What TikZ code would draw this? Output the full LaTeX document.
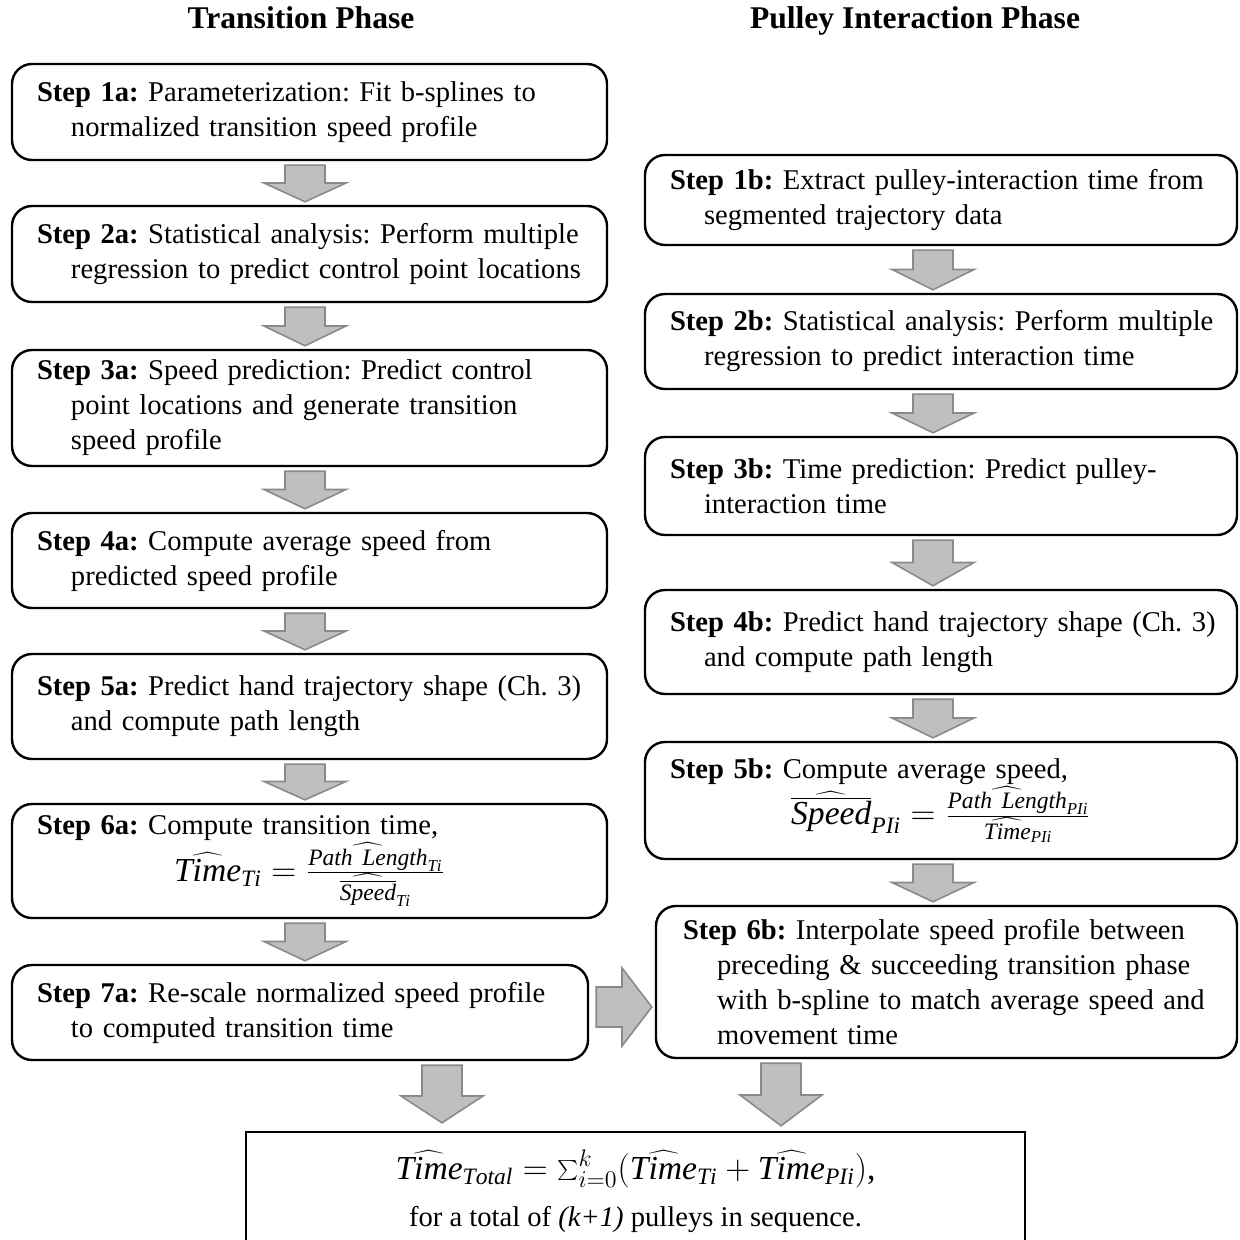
\documentclass[tikz,border=0pt]{standalone}
\usepackage{fontspec}
\setmainfont{Liberation Serif}
\usetikzlibrary{calc}

\definecolor{blockfill}{RGB}{191,191,191}
\definecolor{blockline}{RGB}{138,138,138}

% first line of a step box, kept on one line
\newcommand{\stepno}[2]{\mbox{\textbf{Step #1:} #2}}
\newcommand{\hangpad}{\hspace*{17pt}}
\newcommand{\mathsize}{\fontsize{16.8}{20}\selectfont}

% gray block arrow from the box above down to the box below
\newcommand{\downflow}[4][1.5pt]{%
  \path[flow] let \p1=(#2,0), \p2=(#3.south), \p3=(#4.north), \p4=($(#3.south)!.5!(#4.north)$) in
    (\x1-10pt,\y2-2pt) -- (\x1+10pt,\y2-2pt) -- (\x1+10pt,\y4) -- (\x1+20.5pt,\y4)
    -- (\x1,\y3+#1) -- (\x1-20.5pt,\y4) -- (\x1-10pt,\y4) -- cycle;
}
% same, pointing right
\newcommand{\rightflow}[3]{%
  \path[flow] let \p1=(0,#1), \p2=(#2.east), \p3=(#3.west), \p4=($(#2.east)!.5!(#3.west)$) in
    (\x2+3.5pt,\y1+10pt) -- (\x4,\y1+10pt) -- (\x4,\y1+19.5pt) -- (\x3-1.5pt,\y1)
    -- (\x4,\y1-19.5pt) -- (\x4,\y1-10pt) -- (\x2+3.5pt,\y1-10pt) -- cycle;
}

\begin{document}
\begin{tikzpicture}[x=0.5pt, y=-0.5pt,
  box/.style={draw, line width=1.2pt, rounded corners=10pt, align=left,
    inner xsep=12.5pt, inner ysep=0pt, font=\fontsize{14.3}{17.5}\selectfont,
    execute at begin node={\frenchspacing\hyphenpenalty=10000\relax}},
  flow/.style={fill=blockfill, draw=blockline, line width=0.8pt},
  phase/.style={anchor=base, font=\fontsize{15.8}{19}\selectfont\bfseries}]
 \useasboundingbox (0,0) rectangle (1239,1240);
 \clip (0,0) rectangle (1239,1240);

 \node[phase] (tp) at (301,29) {Transition Phase};
 \node[phase] (pp) at (915,29) {Pulley Interaction Phase};

 % transition phase
 \node[box, text width=272.5pt, minimum height=48pt] (s1a) at (309.5,112)
  {\stepno{1a}{Parameterization: Fit b-splines to}\\ \hangpad normalized transition speed profile};
 \node[box, text width=272.5pt, minimum height=48pt] (s2a) at (309.5,254)
  {\stepno{2a}{Statistical analysis: Perform multiple}\\ \hangpad regression to predict control point locations};
 \node[box, text width=272.5pt, minimum height=58pt] (s3a) at (309.5,408)
  {\stepno{3a}{Speed prediction: Predict control}\\ \hangpad point locations and generate transition\\ \hangpad speed profile};
 \node[box, text width=272.5pt, minimum height=47.5pt] (s4a) at (309.5,560.5)
  {\stepno{4a}{Compute average speed from}\\ \hangpad predicted speed profile};
 \node[box, text width=272.5pt, minimum height=52.5pt] (s5a) at (309.5,706.5)
  {\stepno{5a}{Predict hand trajectory shape (Ch. 3)}\\ \hangpad and compute path length};
 \node[box, text width=272.5pt, minimum height=57pt] (s6a) at (309.5,861)
  {\stepno{6a}{Compute transition time,}\\
   \makebox[\linewidth]{\mathsize$\widehat{\mathit{Time}}_{\mathit{Ti}} =
     \frac{\widehat{\mathit{Path\ Length}}_{\mathit{Ti}}}{\widehat{\overline{\mathit{Speed}}}_{\mathit{Ti}}}$}};
 \node[box, text width=263pt, minimum height=47.5pt] (s7a) at (300,1012.5)
  {\stepno{7a}{Re-scale normalized speed profile}\\ \hangpad to computed transition time};

 % pulley interaction phase
 \node[box, text width=271pt, minimum height=45pt] (s1b) at (941,200)
  {\stepno{1b}{Extract pulley-interaction time from}\\ \hangpad segmented trajectory data};
 \node[box, text width=271pt, minimum height=47.5pt] (s2b) at (941,341.5)
  {\stepno{2b}{Statistical analysis: Perform multiple}\\ \hangpad regression to predict interaction time};
 \node[box, text width=271pt, minimum height=49pt] (s3b) at (941,486)
  {\stepno{3b}{Time prediction: Predict pulley-}\\ \hangpad interaction time};
 \node[box, text width=271pt, minimum height=52pt] (s4b) at (941,642)
  {\stepno{4b}{Predict hand trajectory shape (Ch. 3)}\\ \hangpad and compute path length};
 \node[box, text width=271pt, minimum height=58.5pt] (s5b) at (941,800.5)
  {\stepno{5b}{Compute average speed,}\\
   \makebox[\linewidth]{\mathsize$\widehat{\overline{\mathit{Speed}}}_{\mathit{PIi}} =
     \frac{\widehat{\mathit{Path\ Length}}_{\mathit{PIi}}}{\widehat{\mathit{Time}}_{\mathit{PIi}}}$}};
 \node[box, text width=263.5pt, inner xsep=13.5pt, minimum height=76pt] (s6b) at (946.5,982)
  {\stepno{6b}{Interpolate speed profile between}\\ \hangpad preceding \& succeeding transition phase\\
   \hangpad with b-spline to match average speed and\\ \hangpad movement time};

 % total time
 \node[draw, line width=1.2pt, minimum width=389.5pt, minimum height=59pt, align=center,
   font=\fontsize{14.3}{17.5}\selectfont] (total) at (635.5,1191)
  {{\mathsize$\widehat{\mathit{Time}}_{\mathit{Total}} = \sum_{i=0}^{k}\bigl(\widehat{\mathit{Time}}_{\mathit{Ti}}
    + \widehat{\mathit{Time}}_{\mathit{PIi}}\bigr)$,}\\[6pt]
   for a total of \textit{(k+1)} pulleys in sequence.};

 \foreach \a/\b in {s1a/s2a, s2a/s3a, s3a/s4a, s4a/s5a, s5a/s6a, s6a/s7a}
  \downflow{305}{\a}{\b};
 \foreach \a/\b in {s1b/s2b, s2b/s3b, s3b/s4b, s4b/s5b, s5b/s6b}
  \downflow{933}{\a}{\b};
 \rightflow{1007}{s7a}{s6b};
 \downflow[4pt]{442}{s7a}{total};
 \downflow[2.5pt]{781}{s6b}{total};
\end{tikzpicture}
\end{document}
